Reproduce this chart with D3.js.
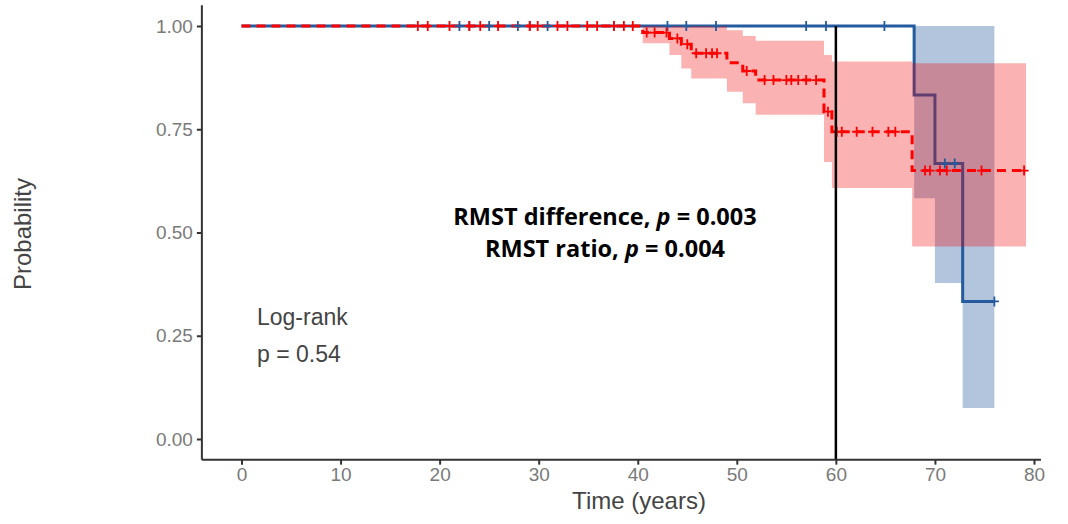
<!DOCTYPE html>
<html>
<head>
<meta charset="utf-8">
<script src="https://cdn.jsdelivr.net/npm/d3@7"></script>
<style>
  body { margin: 0; background: #fff; }
  svg { display: block; }
</style>
</head>
<body>
<div id="chart"></div>
<script>
// red group (dashed) - step curve + 95% band
var redTime  = [0, 40.5, 43.2, 44.4, 45.4, 49.0, 50.6, 51.9, 58.8, 59.6, 67.7, 79.2];
var redSurv  = [1, 0.984, 0.970, 0.956, 0.934, 0.911, 0.891, 0.869, 0.7925, 0.744, 0.65, 0.65];
var redUpper = [1, 1, 1, 1, 1, 0.99, 0.976, 0.964, 0.93, 0.914, 0.91, 0.91];
var redLower = [1, 0.958, 0.93, 0.897, 0.873, 0.841, 0.813, 0.785, 0.671, 0.608, 0.466, 0.466];
var redCensor = [17.8, 18.8, 21.0, 23.0, 24.1, 25.9, 29.1, 29.9, 31.9, 32.9, 34.9, 35.9, 37.6, 38.6, 39.5,
                 40.9, 41.7, 42.9, 44.0, 45.0, 45.9, 46.9, 47.5, 48.0, 51.0, 52.8, 53.7, 55.0, 55.5, 56.2,
                 57.0, 58.0, 59.2, 60.1, 60.6, 62.1, 63.7, 65.3, 66.0, 69.0, 69.5, 70.5, 71.2, 74.7, 79.0];

// blue group (solid)
var blueTime  = [0, 67.9, 70.0, 72.8, 76];
var blueSurv  = [1, 0.833, 0.667, 0.333, 0.333];
var blueUpper = [1, 1, 1, 1, 1];
var blueLower = [1, 0.583, 0.378, 0.075, 0.075];
var blueCensor = [22.0, 23.0, 25.0, 27.9, 29.1, 30.9, 37.6, 43.0, 44.9, 47.9, 57.0, 59.0, 64.9, 71.0, 72.0, 76];

var xTicks = [0, 10, 20, 30, 40, 50, 60, 70, 80];
var yTicks = [0, 0.25, 0.5, 0.75, 1];
var cutoff = 60;

var width = 1068, height = 524;
var red = '#ff0000', blue = '#245a9e';

var x = d3.scaleLinear().domain([0, 80]).range([241.5, 1034]);
var y = d3.scaleLinear().domain([0, 1]).range([439, 26]);

var svg = d3.select('#chart').append('svg')
    .attr('width', width)
    .attr('height', height);

function rows(t, s, lo, hi) {
    return t.map(function(d, i) { return {t: d, s: s[i], lo: lo[i], hi: hi[i]}; });
}
function stepAt(t, s, v) {
    var i = d3.bisectRight(t, v) - 1;
    return s[Math.max(0, i)];
}

var redRows = rows(redTime, redSurv, redLower, redUpper);
var blueRows = rows(blueTime, blueSurv, blueLower, blueUpper);

var band = d3.area().curve(d3.curveStepAfter)
    .x(function(d) { return x(d.t); })
    .y0(function(d) { return y(d.lo); })
    .y1(function(d) { return y(d.hi); });
var line = d3.line().curve(d3.curveStepAfter)
    .x(function(d) { return x(d.t); })
    .y(function(d) { return y(d.s); });

// bands and curves
svg.append('path').datum(blueRows).attr('d', band)
    .style('fill', blue).style('fill-opacity', 0.35);
svg.append('path').datum(blueRows).attr('d', line)
    .style('fill', 'none').style('stroke', blue).style('stroke-width', 3);
svg.append('path').datum(redRows).attr('d', band)
    .style('fill', '#f20000').style('fill-opacity', 0.3);
svg.append('path').datum(redRows).attr('d', line)
    .style('fill', 'none').style('stroke', red).style('stroke-width', 3)
    .style('stroke-dasharray', '9,6');

// censor marks
function censor(times, t, s, colour) {
    svg.append('g').selectAll('path')
        .data(times)
        .enter()
        .append('path')
        .attr('d', function(d) {
            var cx = x(d), cy = y(stepAt(t, s, d));
            return 'M' + (cx - 4.5) + ',' + cy + 'H' + (cx + 4.5) + 'M' + cx + ',' + (cy - 5) + 'V' + (cy + 5);
        })
        .style('stroke', colour)
        .style('stroke-width', 1.8);
}
censor(blueCensor, blueTime, blueSurv, blue);
censor(redCensor, redTime, redSurv, red);

// vertical cut-off line
svg.append('line')
    .attr('x1', x(cutoff)).attr('x2', x(cutoff))
    .attr('y1', y(1)).attr('y2', y(-0.05))
    .style('stroke', '#000').style('stroke-width', 2.5);

// axes
var xAxis = svg.append('g')
    .attr('transform', 'translate(0,' + y(-0.05) + ')')
    .call(d3.axisBottom(x).tickValues(xTicks).tickSize(5).tickPadding(3));
var yAxis = svg.append('g')
    .attr('transform', 'translate(' + x(-4) + ',0)')
    .call(d3.axisLeft(y).tickValues(yTicks).tickSize(5).tickPadding(4).tickFormat(d3.format('.2f')));
xAxis.select('.domain').attr('d', 'M' + x(-4) + ',0H' + x(80.7));
yAxis.select('.domain').attr('d', 'M0,' + y(-0.05) + 'V' + y(1.05));
[xAxis, yAxis].forEach(function(a) {
    a.selectAll('.domain, .tick line').style('stroke', '#333').style('stroke-width', 2);
    a.selectAll('.tick text')
        .style('font-family', 'Liberation Sans, Arial, sans-serif')
        .style('font-size', '19px')
        .style('fill', '#7a7a7a');
});

// axis titles
svg.append('text')
    .attr('x', 639).attr('y', 509)
    .attr('text-anchor', 'middle')
    .style('font-family', 'Liberation Sans, Arial, sans-serif')
    .style('font-size', '24px')
    .style('fill', '#444')
    .text('Time (years)');
svg.append('text')
    .attr('transform', 'translate(31,234) rotate(-90)')
    .attr('text-anchor', 'middle')
    .style('font-family', 'Liberation Sans, Arial, sans-serif')
    .style('font-size', '24px')
    .style('fill', '#444')
    .text('Probability');

// annotations
var rmst = svg.append('g')
    .style('font-family', 'Open Sans, sans-serif')
    .style('font-weight', 'bold')
    .style('font-size', '23.5px')
    .style('fill', '#000')
    .attr('text-anchor', 'middle');
var t1 = rmst.append('text').attr('x', 605).attr('y', 225);
t1.append('tspan').text('RMST difference, ');
t1.append('tspan').style('font-style', 'italic').text('p');
t1.append('tspan').text(' = 0.003');
var t2 = rmst.append('text').attr('x', 605).attr('y', 257);
t2.append('tspan').text('RMST ratio, ');
t2.append('tspan').style('font-style', 'italic').text('p');
t2.append('tspan').text(' = 0.004');

svg.append('text')
    .attr('x', 257).attr('y', 325)
    .style('font-family', 'Liberation Sans, Arial, sans-serif')
    .style('font-size', '23px')
    .style('fill', '#444')
    .text('Log-rank');
svg.append('text')
    .attr('x', 257).attr('y', 362)
    .style('font-family', 'Liberation Sans, Arial, sans-serif')
    .style('font-size', '23px')
    .style('fill', '#444')
    .text('p = 0.54');
</script>
</body>
</html>
